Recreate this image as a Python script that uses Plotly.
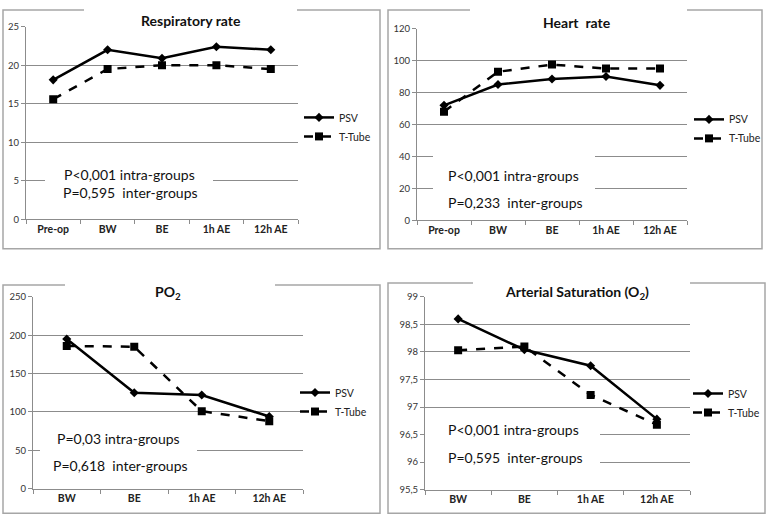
import plotly.graph_objects as go

W, H = 771, 524

# ---------------- data ----------------
cats5 = ["Pre-op", "BW", "BE", "1h AE", "12h AE"]
cats4 = ["BW", "BE", "1h AE", "12h AE"]

rr_psv = [18.1, 22.0, 20.9, 22.4, 22.0]
rr_tt = [15.6, 19.5, 20.0, 20.0, 19.5]

hr_psv = [72, 85, 88.5, 90, 84.5]
hr_tt = [68, 93, 97.5, 95, 95]

po2_psv = [195, 125, 122, 94]
po2_tt = [186, 185, 101, 88]

sat_psv = [98.6, 98.04, 97.75, 96.78]
sat_tt = [98.03, 98.1, 97.22, 96.68]

titles = ["Respiratory rate", "Heart\u00a0 rate", "PO<sub>2</sub>", "Arterial Saturation (O<sub>2</sub>)"]
pvals = [
    ["P<0,001 intra-groups", "P=0,595\u00a0 inter-groups"],
    ["P<0,001 intra-groups", "P=0,233\u00a0 inter-groups"],
    ["P=0,03 intra-groups", "P=0,618\u00a0 inter-groups"],
    ["P<0,001 intra-groups", "P=0,595\u00a0 inter-groups"],
]
series_names = ["PSV", "T-Tube"]

# ---------------- layout helpers ----------------
def px(x):
    return x / W


def py(y):
    return 1 - y / H


FONT = "Lato, 'Open Sans', sans-serif"
GRID = "#8c8c8c"
BORDER = "#a6a6a6"

panels = [
    dict(xd=(26, 298), yd=(218, 21), yr=(0, 25), dt=5, cats=cats5, psv=rr_psv, tt=rr_tt,
         leg=(299, 99), title=(191, 15), pv=[(129, 172), (130, 191)],
         border=(3, 4, 380, 248), tbox=(84, 0, 297, 30), pbox=(45, 160, 213, 200)),
    dict(xd=(417, 687), yd=(219, 23), yr=(0, 120), dt=20, cats=cats5, psv=hr_psv, tt=hr_tt,
         leg=(689, 101), title=(577, 17), pv=[(513, 173), (515, 201)],
         border=(388, 4, 762, 248), tbox=(470, 0, 687, 30), pbox=(433, 140, 595, 215)),
    dict(xd=(33, 303), yd=(493, 297), yr=(0, 250), dt=50, cats=cats4, psv=po2_psv, tt=po2_tt,
         leg=(295, 380), title=(168, 293), pv=[(118, 442), (120, 469)],
         border=(3, 285, 380, 518), tbox=(65, 275, 275, 305), pbox=(40, 428, 197, 488)),
    dict(xd=(425, 690), yd=(494, 297), yr=(95.5, 99), dt=0.5, cats=cats4, psv=sat_psv, tt=sat_tt,
         leg=(688, 381), title=(577, 293), pv=[(513, 433), (515, 461)],
         border=(388, 283, 765, 518), tbox=(473, 275, 690, 305), pbox=(425, 420, 600, 480)),
]

fig = go.Figure()
layout = dict(
    width=W, height=H,
    margin=dict(l=0, r=0, t=0, b=0),
    paper_bgcolor="white", plot_bgcolor="white",
    separators=", ",
    font=dict(family=FONT, color="#222222"),
    showlegend=True,
)
shapes = []
annotations = []

for i, p in enumerate(panels):
    n = i + 1
    xa = "x" if n == 1 else f"x{n}"
    ya = "y" if n == 1 else f"y{n}"
    lg = "legend" if n == 1 else f"legend{n}"

    fig.add_trace(go.Scatter(
        x=p["cats"], y=p["psv"], name=series_names[0], mode="lines+markers",
        line=dict(color="black", width=2.5),
        marker=dict(symbol="diamond", size=7, color="black"),
        xaxis=xa, yaxis=ya, legend=lg,
    ))
    fig.add_trace(go.Scatter(
        x=p["cats"], y=p["tt"], name=series_names[1], mode="lines+markers",
        line=dict(color="black", width=2.5, dash="dash"),
        marker=dict(symbol="square", size=8, color="black"),
        xaxis=xa, yaxis=ya, legend=lg,
    ))

    xkey = "xaxis" if n == 1 else f"xaxis{n}"
    ykey = "yaxis" if n == 1 else f"yaxis{n}"
    span = p["yr"][1] - p["yr"][0]
    layout[xkey] = dict(
        domain=[px(p["xd"][0]), px(p["xd"][1])], anchor=ya,
        type="category", range=[-0.5, len(p["cats"]) - 0.5],
        showline=True, linecolor=GRID, linewidth=1,
        ticks="outside", ticklen=4, tickcolor=GRID, tickson="boundaries",
        showgrid=False, zeroline=False,
        tickfont=dict(size=10.5, family=FONT, color="#222222", weight="bold"),
        fixedrange=True,
    )
    layout[ykey] = dict(
        domain=[py(p["yd"][0]), py(p["yd"][1])], anchor=xa,
        range=[p["yr"][0], p["yr"][1] + span * 0.0005], dtick=p["dt"], tick0=p["yr"][0],
        showline=True, linecolor=GRID, linewidth=1,
        ticks="outside", ticklen=4, tickcolor=GRID,
        showgrid=True, gridcolor=GRID, gridwidth=1, zeroline=False,
        tickfont=dict(size=9.5, family=FONT, color="#333333"),
        fixedrange=True,
    )
    layout[lg] = dict(
        x=px(p["leg"][0]), y=py(p["leg"][1]), xanchor="left", yanchor="top",
        bgcolor="rgba(0,0,0,0)", font=dict(size=10.5, family=FONT, color="#222222"),
        tracegroupgap=0, itemwidth=30,
    )

    bx0, by0, bx1, by1 = p["border"]
    shapes.append(dict(type="rect", xref="paper", yref="paper",
                       x0=px(bx0), y0=py(by1), x1=px(bx1), y1=py(by0),
                       line=dict(color=BORDER, width=1.5), fillcolor="rgba(0,0,0,0)", layer="above"))
    for box in (p["tbox"], p["pbox"]):
        shapes.append(dict(type="rect", xref="paper", yref="paper",
                           x0=px(box[0]), y0=py(box[3]), x1=px(box[2]), y1=py(box[1]),
                           line=dict(width=0), fillcolor="white", layer="above"))

    annotations.append(dict(
        text=titles[i], x=px(p["title"][0]), y=py(p["title"][1]), xref="paper", yref="paper",
        xanchor="center", yanchor="middle", showarrow=False,
        font=dict(size=14, family=FONT, color="#111111", weight="bold"),
    ))
    for j, t in enumerate(pvals[i]):
        annotations.append(dict(
            text=t, x=px(p["pv"][j][0]), y=py(p["pv"][j][1]), xref="paper", yref="paper",
            xanchor="center", yanchor="middle", showarrow=False,
            font=dict(size=14, family=FONT, color="#111111"),
        ))

layout["shapes"] = shapes
layout["annotations"] = annotations
fig.update_layout(**layout)

fig.write_html(
    "out.html",
    config={"displayModeBar": False},
    post_script="document.body.style.margin='0';document.body.style.overflow='hidden';",
)
